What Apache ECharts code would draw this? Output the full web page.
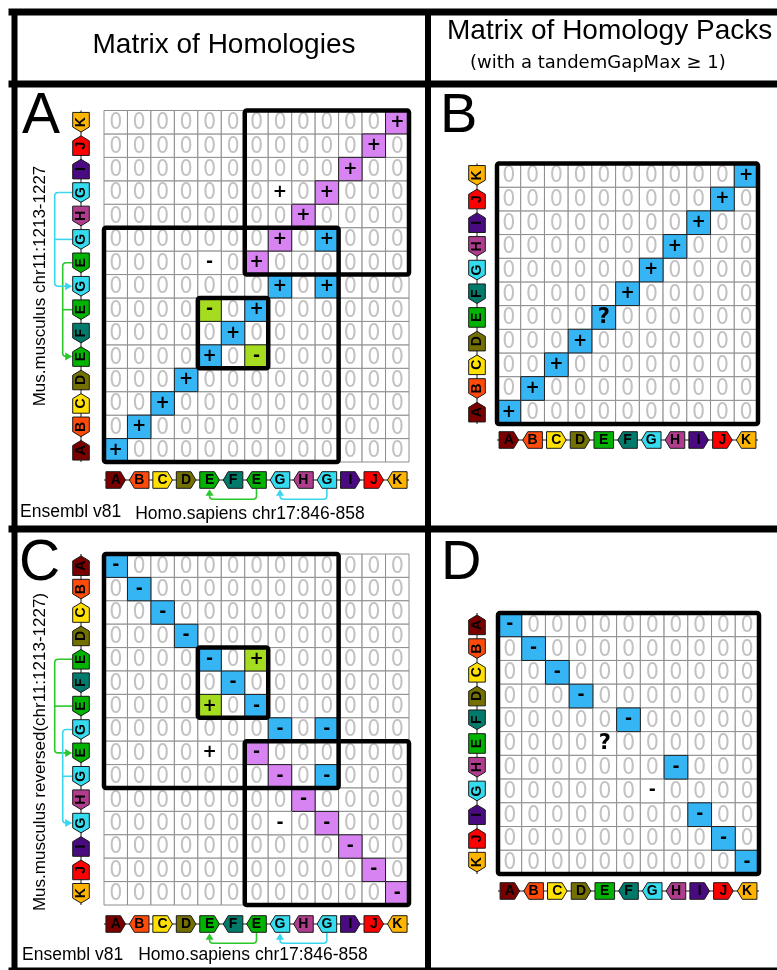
<!DOCTYPE html>
<html>
<head>
<meta charset="utf-8">
<title>Matrix of Homologies</title>
<script src="https://cdn.jsdelivr.net/npm/echarts@6.0.0/dist/echarts.min.js"></script>
<style>
  html, body { margin: 0; padding: 0; background: #ffffff; }
  #chart { width: 777px; height: 970px; }
</style>
</head>
<body>
<div id="chart"></div>
<script>
// ---- Gene orders (strand: +1 toward the end of the list, -1 toward its start, 0 mixed) ----
// Human segment chr17:846-858, columns left to right
const humanGenes   = ['A','B','C','D','E','F','E','G','H','G','I','J','K'];
const humanStrands = [ 1, -1,  1,  1,  1, -1, -1, -1, -1, -1,  1,  1, -1];
// Mouse segment chr11:1213-1227, rows from the start of the segment
const mouseGenes   = ['A','B','C','D','E','F','E','G','E','G','H','G','I','J','K'];
const mouseStrands = [ 1, -1,  1,  1,  1, -1, -1, -1, -1, -1, -1, -1,  1,  1, -1];
const mouseStrandsReversed = mouseStrands.map(s => -s);

// Homology packs (tandem duplicates merged)
const humanPacks        = ['A','B','C','D','E','F','G','H','I','J','K'];
const humanPackStrands  = [ 1, -1,  1,  1,  0, -1, -1, -1,  1,  1, -1];
const mousePacks        = ['A','B','C','D','E','F','G','H','I','J','K'];
const mousePackStrands  = [ 1, -1,  1,  1,  0, -1, -1, -1,  1,  1, -1];
const mousePacksReversed       = ['A','B','C','D','F','E','H','G','I','J','K'];
const mousePackStrandsReversed = [-1,  1, -1, -1,  1,  0,  1,  1, -1, -1,  1];

// ---- Non-zero cells: [column, row, sign, diagonal] (every other cell holds 0) ----
const homologiesA = [
  [0,0,'+','d1'], [1,1,'+','d1'], [2,2,'+','d1'], [3,3,'+','d1'],
  [4,4,'+','d1'], [6,4,'-','dup'], [5,5,'+','d1'], [4,6,'-','dup'], [6,6,'+','d1'],
  [7,7,'+','d1'], [9,7,'+','d1'], [4,8,'-','none'], [6,8,'+','d2'],
  [7,9,'+','d2'], [9,9,'+','d1'], [8,10,'+','d2'], [7,11,'+','none'], [9,11,'+','d2'],
  [10,12,'+','d2'], [11,13,'+','d2'], [12,14,'+','d2']
];
const homologiesB = [
  [0,0,'+','d1'], [1,1,'+','d1'], [2,2,'+','d1'], [3,3,'+','d1'], [4,4,'?','d1'],
  [5,5,'+','d1'], [6,6,'+','d1'], [7,7,'+','d1'], [8,8,'+','d1'], [9,9,'+','d1'], [10,10,'+','d1']
];
const homologiesC = [
  [0,0,'-','d1'], [1,1,'-','d1'], [2,2,'-','d1'], [3,3,'-','d1'],
  [4,4,'-','d1'], [6,4,'+','dup'], [5,5,'-','d1'], [4,6,'+','dup'], [6,6,'-','d1'],
  [7,7,'-','d1'], [9,7,'-','d1'], [4,8,'+','none'], [6,8,'-','d2'],
  [7,9,'-','d2'], [9,9,'-','d1'], [8,10,'-','d2'], [7,11,'-','none'], [9,11,'-','d2'],
  [10,12,'-','d2'], [11,13,'-','d2'], [12,14,'-','d2']
];
const homologiesD = [
  [0,0,'-','d1'], [1,1,'-','d1'], [2,2,'-','d1'], [3,3,'-','d1'], [5,4,'-','d1'],
  [4,5,'?','none'], [7,6,'-','d1'], [6,7,'-','none'], [8,8,'-','d1'], [9,9,'-','d1'], [10,10,'-','d1']
];

// ---- Diagonals: [firstColumn, lastColumn, firstRow, lastRow] ----
const diagonalsA = [[0,9,0,9], [4,6,4,6], [6,12,8,14]];
const diagonalsC = [[0,9,0,9], [4,6,4,6], [6,12,8,14]];
const diagonalsPacks = [[0,10,0,10]];

// ---- Tandem duplicate links between copies of the same gene ----
const mouseLinksA = [{gene:'E', from:8, via:[6], to:4}, {gene:'G', from:11, via:[9], to:7}];
const mouseLinksC = [{gene:'E', from:4, via:[6], to:8}, {gene:'G', from:7, via:[9], to:11}];
const humanLinks  = [{gene:'E', from:6, via:[], to:4}, {gene:'G', from:9, via:[], to:7}];

// ---- Styles ----
const CELL_COLORS = { d1:'#36b5f5', d2:'#d783f1', dup:'#a6dc1f' };
const GENE_COLORS = { A:'#7a0000', B:'#ff4a0a', C:'#ffe000', D:'#747000', E:'#00b300', F:'#007a6b',
                      G:'#35dcef', H:'#b03c8e', I:'#4a0a80', J:'#ff0000', K:'#ffb400' };
const LINK_COLORS = { E:'#2bc82b', G:'#3ad6ee' };
const SANS = '"Liberation Sans", Arial, sans-serif';
const ZERO_FONT = '23px "Liberation Sans Narrow", "DejaVu Sans Condensed", ' + SANS;

const panels = [
  { grid:{left:104, top:110.5, width:305, height:351.5}, inverse:false,
    cols:humanGenes, colStrands:humanStrands, rows:mouseGenes, rowStrands:mouseStrands,
    homs:homologiesA, boxes:diagonalsA, rowLinks:mouseLinksA, colLinks:humanLinks, colGap:18, rowGap:23 },
  { grid:{left:497, top:163.5, width:261, height:260.5}, inverse:false,
    cols:humanPacks, colStrands:humanPackStrands, rows:mousePacks, rowStrands:mousePackStrands,
    homs:homologiesB, boxes:diagonalsPacks, rowLinks:[], colLinks:[], colGap:16, rowGap:20 },
  { grid:{left:104, top:554, width:305, height:351}, inverse:true,
    cols:humanGenes, colStrands:humanStrands, rows:mouseGenes, rowStrands:mouseStrandsReversed,
    homs:homologiesC, boxes:diagonalsC, rowLinks:mouseLinksC, colLinks:humanLinks, colGap:19, rowGap:23 },
  { grid:{left:498, top:613, width:261, height:261}, inverse:true,
    cols:humanPacks, colStrands:humanPackStrands, rows:mousePacksReversed, rowStrands:mousePackStrandsReversed,
    homs:homologiesD, boxes:diagonalsPacks, rowLinks:[], colLinks:[], colGap:17, rowGap:21 }
];

// Every cell of the matrix; coloured cells last so their outlines stay on top
function cellData(nCols, nRows, homs) {
  const lookup = {};
  homs.forEach((h, k) => { lookup[h[0] + ',' + h[1]] = k; });
  const plain = [], marked = [];
  for (let r = 0; r < nRows; r++) {
    for (let c = 0; c < nCols; c++) {
      const k = lookup[c + ',' + r];
      if (k === undefined) plain.push([c, r, -1]); else marked.push([c, r, k]);
    }
  }
  return plain.concat(marked);
}

function renderCell(homs) {
  return function (params, api) {
    const k = api.value(2);
    const p = api.coord([api.value(0), api.value(1)]);
    const s = api.size([1, 1]);
    const shape = { x: p[0] - s[0] / 2, y: p[1] - s[1] / 2, width: s[0], height: s[1] };
    if (k < 0) {
      return { type:'group', children:[
        { type:'rect', shape, style:{ fill:'#ffffff', stroke:'#8e8e8e', lineWidth:1 } },
        { type:'text', x:p[0], y:p[1] + 1, style:{ text:'0', font:ZERO_FONT, fill:'#c2c2c2', align:'center', verticalAlign:'middle' } }
      ]};
    }
    const h = homs[k];
    const fill = CELL_COLORS[h[3]];
    const font = h[2] === '?' ? 'bold 21px "DejaVu Sans", sans-serif' : 'bold 17px "DejaVu Sans", sans-serif';
    return { type:'group', children:[
      { type:'rect', shape, style:{ fill: fill || '#ffffff', stroke: fill ? '#1e1e1e' : '#8e8e8e', lineWidth:1 } },
      { type:'text', x:p[0], y:p[1], style:{ text:h[2], font, fill:'#000000', align:'center', verticalAlign:'middle' } }
    ]};
  };
}

function renderBox(params, api) {
  const a = api.coord([api.value(0), api.value(2)]);
  const b = api.coord([api.value(1), api.value(3)]);
  const s = api.size([1, 1]);
  const x0 = Math.min(a[0], b[0]) - s[0] / 2, x1 = Math.max(a[0], b[0]) + s[0] / 2;
  const y0 = Math.min(a[1], b[1]) - s[1] / 2, y1 = Math.max(a[1], b[1]) + s[1] / 2;
  return { type:'rect', shape:{ x:x0, y:y0, width:x1 - x0, height:y1 - y0, r:2 },
           style:{ fill:null, stroke:'#000000', lineWidth:4.5, lineJoin:'round' } };
}

// Gene glyph: a box with a pointed end showing the transcription direction
const HALF_LEN = 9.8, HALF_THICK = 8.3, TIP = 5;
function geneGlyph(cx, cy, name, dir, vertical, pitch) {
  let pts;
  if (dir > 0) pts = [[-HALF_LEN,-HALF_THICK],[HALF_LEN-TIP,-HALF_THICK],[HALF_LEN,0],[HALF_LEN-TIP,HALF_THICK],[-HALF_LEN,HALF_THICK]];
  else if (dir < 0) pts = [[HALF_LEN,-HALF_THICK],[-HALF_LEN+TIP,-HALF_THICK],[-HALF_LEN,0],[-HALF_LEN+TIP,HALF_THICK],[HALF_LEN,HALF_THICK]];
  else pts = [[-HALF_LEN,-HALF_THICK],[HALF_LEN,-HALF_THICK],[HALF_LEN,HALF_THICK],[-HALF_LEN,HALF_THICK]];
  // u runs along the axis, v across it
  const place = vertical ? (u, v) => [cx + v, cy - u] : (u, v) => [cx + u, cy + v];
  const a = place(-pitch / 2, 0), b = place(pitch / 2, 0);
  return { type:'group', children:[
    { type:'line', shape:{ x1:a[0], y1:a[1], x2:b[0], y2:b[1] }, style:{ stroke:'#111111', lineWidth:1 } },
    { type:'polygon', shape:{ points: pts.map(q => place(q[0], q[1])) },
      style:{ fill:GENE_COLORS[name], stroke:'#1a1a1a', lineWidth:1 } },
    { type:'text', x:cx, y:cy + (vertical ? 0 : 0.5), rotation: vertical ? Math.PI / 2 : 0,
      style:{ text:name, font:'bold 14px ' + SANS, fill:'#000000', align:'center', verticalAlign:'middle' } }
  ]};
}

function renderColGlyph(panel) {
  return function (params, api) {
    const i = api.value(0);
    const cs = params.coordSys;
    const cx = api.coord([i, 0])[0];
    return geneGlyph(cx, cs.y + cs.height + panel.colGap, panel.cols[i], panel.colStrands[i], false, api.size([1, 1])[0]);
  };
}

function renderRowGlyph(panel) {
  return function (params, api) {
    const i = api.value(1);
    const cs = params.coordSys;
    const cy = api.coord([0, i])[1];
    const up = panel.rowStrands[i] * (panel.inverse ? -1 : 1);
    return geneGlyph(cs.x - panel.rowGap, cy, panel.rows[i], up, true, api.size([1, 1])[1]);
  };
}

// The link that reaches highest on screen takes the outer lane
function linkLanes(links, inverse) {
  const top = l => inverse ? Math.min(l.from, l.to) : -Math.max(l.from, l.to);
  const order = links.map((l, k) => k).sort((a, b) => top(links[a]) - top(links[b]));
  const lanes = [];
  order.forEach((k, n) => { lanes[k] = (n === 0 && links.length > 1) ? 1 : 0; });
  return lanes;
}

function renderRowLinks(panel) {
  const lanes = linkLanes(panel.rowLinks, panel.inverse);
  return function (params, api) {
    const k = api.value(0);
    const link = panel.rowLinks[k];
    const color = LINK_COLORS[link.gene];
    const cs = params.coordSys;
    const edge = cs.x - panel.rowGap - HALF_THICK - 0.5;
    const lane = edge - (lanes[k] ? 17.5 : 9.5);
    const ys = api.coord([0, link.from])[1], yt = api.coord([0, link.to])[1];
    const d = Math.sign(yt - ys), r = 3.5;
    const path = 'M' + edge + ' ' + ys + ' L' + (lane + r) + ' ' + ys +
      ' Q' + lane + ' ' + ys + ' ' + lane + ' ' + (ys + d * r) +
      ' L' + lane + ' ' + (yt - d * r) + ' Q' + lane + ' ' + yt + ' ' + (lane + r) + ' ' + yt +
      ' L' + (edge - 5) + ' ' + yt;
    const children = [
      { type:'path', shape:{ pathData:path }, style:{ fill:null, stroke:color, lineWidth:1.6 } },
      { type:'polygon', shape:{ points:[[edge, yt], [edge - 7, yt - 4], [edge - 7, yt + 4]] }, style:{ fill:color } }
    ];
    link.via.forEach(v => {
      const yv = api.coord([0, v])[1];
      children.push({ type:'line', shape:{ x1:lane, y1:yv, x2:edge, y2:yv }, style:{ stroke:color, lineWidth:1.6 } });
    });
    return { type:'group', children };
  };
}

function renderColLinks(panel) {
  return function (params, api) {
    const link = panel.colLinks[api.value(0)];
    const color = LINK_COLORS[link.gene];
    const cs = params.coordSys;
    const bottom = cs.y + cs.height + panel.colGap + HALF_THICK + 0.5;
    const lane = bottom + 10.5;
    const xs = api.coord([link.from, 0])[0], xt = api.coord([link.to, 0])[0];
    const d = Math.sign(xs - xt), r = 3.5;
    const path = 'M' + xs + ' ' + bottom + ' L' + xs + ' ' + (lane - r) +
      ' Q' + xs + ' ' + lane + ' ' + (xs - d * r) + ' ' + lane +
      ' L' + (xt + d * r) + ' ' + lane + ' Q' + xt + ' ' + lane + ' ' + xt + ' ' + (lane - r) +
      ' L' + xt + ' ' + (bottom + 5);
    return { type:'group', children:[
      { type:'path', shape:{ pathData:path }, style:{ fill:null, stroke:color, lineWidth:1.6 } },
      { type:'polygon', shape:{ points:[[xt, bottom + 0.5], [xt - 4, bottom + 7], [xt + 4, bottom + 7]] }, style:{ fill:color } }
    ]};
  };
}

const grids = [], xAxes = [], yAxes = [], series = [];
panels.forEach((panel, p) => {
  grids.push(Object.assign({ outerBoundsMode:'none', containLabel:false }, panel.grid));
  xAxes.push({ type:'category', gridIndex:p, data:panel.cols, show:false });
  yAxes.push({ type:'category', gridIndex:p, data:panel.rows, inverse:panel.inverse, show:false });
  const base = { type:'custom', xAxisIndex:p, yAxisIndex:p, silent:true, clip:false };
  series.push(Object.assign({}, base, { z:2, data:cellData(panel.cols.length, panel.rows.length, panel.homs), renderItem:renderCell(panel.homs) }));
  series.push(Object.assign({}, base, { z:5, data:panel.boxes, renderItem:renderBox }));
  series.push(Object.assign({}, base, { z:4, data:panel.cols.map((g, i) => [i, 0]), renderItem:renderColGlyph(panel) }));
  series.push(Object.assign({}, base, { z:4, data:panel.rows.map((g, i) => [0, i]), renderItem:renderRowGlyph(panel) }));
  if (panel.rowLinks.length) {
    series.push(Object.assign({}, base, { z:3, data:panel.rowLinks.map((l, k) => [k, 0]), renderItem:renderRowLinks(panel) }));
  }
  if (panel.colLinks.length) {
    series.push(Object.assign({}, base, { z:3, data:panel.colLinks.map((l, k) => [k, 0]), renderItem:renderColLinks(panel) }));
  }
});

// Frame, headers and captions
const frameLine = (x1, y1, x2, y2, w) => ({ type:'line', shape:{ x1, y1, x2, y2 }, style:{ stroke:'#000000', lineWidth:w, lineCap:'square' }, z:10 });
const label = (text, x, y, font, align, rotation) => ({ type:'text', x, y, rotation: rotation || 0, z:10,
  style:{ text, font, fill:'#000000', align: align || 'center', verticalAlign:'middle' } });

const graphic = [
  frameLine(12, 12, 790, 12, 7),
  frameLine(12, 84, 790, 84, 7),
  frameLine(12, 529, 790, 529, 7),
  frameLine(12, 971, 790, 971, 7),
  frameLine(14.5, 12, 14.5, 975, 6),
  frameLine(428, 12, 428, 975, 6),
  label('Matrix of Homologies', 224, 45, '28px ' + SANS),
  label('Matrix of Homology Packs', 447, 31, '28px ' + SANS, 'left'),
  label('(with a tandemGapMax \u2265 1)', 470, 63, '18px "DejaVu Sans", sans-serif', 'left'),
  label('A', 22, 117, '57px ' + SANS, 'left'),
  label('B', 440, 117, '56px ' + SANS, 'left'),
  label('C', 19, 564, '57px ' + SANS, 'left'),
  label('D', 441, 564, '56px ' + SANS, 'left'),
  label('Mus.musculus chr11:1213-1227', 40, 286, '17px ' + SANS, 'center', Math.PI / 2),
  label('Mus.musculus reversed(chr11:1213-1227)', 40, 752, '17px ' + SANS, 'center', Math.PI / 2),
  label('Homo.sapiens chr17:846-858', 250, 514, '17.5px ' + SANS),
  label('Ensembl v81', 20, 512, '17.5px ' + SANS, 'left'),
  label('Homo.sapiens chr17:846-858', 253, 955, '17.5px ' + SANS),
  label('Ensembl v81', 22, 955, '17.5px ' + SANS, 'left')
];

const chart = echarts.init(document.getElementById('chart'), null, { renderer:'canvas' });
chart.setOption({
  animation:false,
  backgroundColor:'#ffffff',
  grid:grids,
  xAxis:xAxes,
  yAxis:yAxes,
  series:series,
  graphic:graphic
});
</script>
</body>
</html>
